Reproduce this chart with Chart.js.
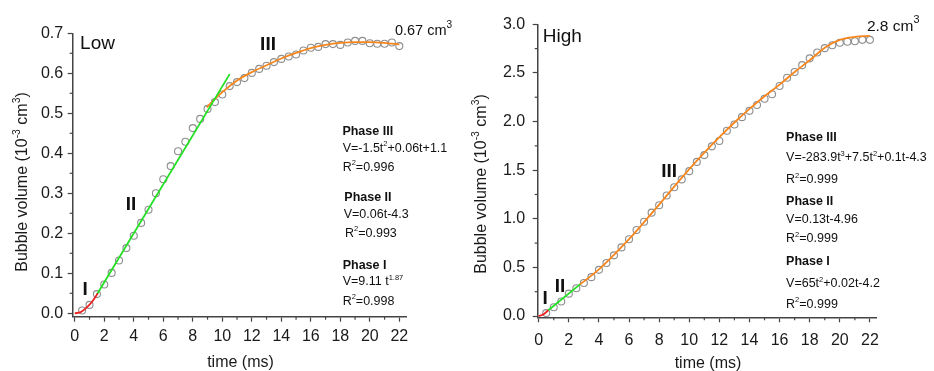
<!DOCTYPE html>
<html><head><meta charset="utf-8">
<script src="https://cdn.jsdelivr.net/npm/chart.js@4/dist/chart.umd.min.js"></script>
<style>
html,body{margin:0;padding:0;background:#fff;overflow:hidden}
#wrap{position:relative;width:934px;height:371px}
.box{position:absolute;top:0;width:467px;height:371px}
</style></head><body>
<div id="wrap">
<div class="box" style="left:0"><canvas id="c1"></canvas></div>
<div class="box" style="left:467px"><canvas id="c2"></canvas></div>
</div>
<script>
// ---------- tick values / labels ----------
const xTickValues = [0,2,4,6,8,10,12,14,16,18,20,22];
const xTickLabels = ['0','2','4','6','8','10','12','14','16','18','20','22'];
const xMinorValues = [1,3,5,7,9,11,13,15,17,19,21];
const lowYTickValues = [0,0.1,0.2,0.3,0.4,0.5,0.6,0.7];
const lowYTickLabels = ['0.0','0.1','0.2','0.3','0.4','0.5','0.6','0.7'];
const lowYMinorValues = [0.05,0.15,0.25,0.35,0.45,0.55,0.65];
const highYTickValues = [0,0.5,1,1.5,2,2.5,3];
const highYTickLabels = ['0.0','0.5','1.0','1.5','2.0','2.5','3.0'];
const highYMinorValues = [0.25,0.75,1.25,1.75,2.25,2.75];

// ---------- measured bubble volumes ----------
const timeMs = [0.5,1,1.5,2,2.5,3,3.5,4,4.5,5,5.5,6,6.5,7,7.5,8,8.5,9,9.5,10,10.5,11,11.5,12,12.5,13,13.5,14,14.5,15,15.5,16,16.5,17,17.5,18,18.5,19,19.5,20,20.5,21,21.5,22];
const lowVolume = [0.007,0.021,0.048,0.072,0.101,0.132,0.163,0.194,0.226,0.259,0.300,0.335,0.368,0.405,0.429,0.463,0.486,0.511,0.528,0.547,0.568,0.578,0.588,0.601,0.611,0.619,0.628,0.636,0.642,0.647,0.657,0.664,0.666,0.673,0.673,0.671,0.677,0.681,0.681,0.675,0.674,0.674,0.677,0.668];
const highVolume = [0.03,0.09,0.15,0.23,0.285,0.34,0.40,0.475,0.545,0.624,0.706,0.79,0.885,0.97,1.063,1.14,1.24,1.325,1.405,1.49,1.585,1.655,1.745,1.80,1.905,1.97,2.045,2.11,2.17,2.235,2.28,2.365,2.45,2.51,2.58,2.65,2.71,2.755,2.785,2.81,2.82,2.825,2.84,2.84];

// ---------- fitted curves ----------
const lowFitI_t = [0,0.4,0.8,1.2,1.56];
const lowFitI_v = [0,0.003,0.014,0.03,0.05];
const lowFitII_t = [1.5,10.5];
const lowFitII_v = [0.047,0.598];
const lowFitIII_t = [8.94,10,11,12,13,14,15,16,17,18,19,20,21,22];
const lowFitIII_v = [0.515,0.553,0.582,0.603,0.62,0.637,0.651,0.663,0.671,0.676,0.678,0.678,0.676,0.672];

const highFitI_t = [0,0.3,0.64];
const highFitI_v = [0,0.015,0.06];
const highFitII_t = [0.64,2.74];
const highFitII_v = [0.06,0.326];
const highFitIII_t = [2.7,4,5,6,7,8,9,10,11,12,13,14,15,16,17,18,19,20,21,22];
const highFitIII_v = [0.32,0.48,0.63,0.79,0.965,1.145,1.33,1.51,1.68,1.84,1.99,2.13,2.26,2.38,2.51,2.63,2.76,2.84,2.87,2.88];

// ---------- helpers ----------
const FAM = "'Liberation Sans', Arial, Helvetica, sans-serif";
const AXIS = '#444';
const pts = (xs, ys) => xs.map((x, i) => ({x, y: ys[i]}));

function parseRich(s){
  const segs=[]; const re=/\^\{([^}]*)\}/g; let last=0,m;
  while((m=re.exec(s))){ if(m.index>last) segs.push({t:s.slice(last,m.index),sup:false}); segs.push({t:m[1],sup:true}); last=re.lastIndex; }
  if(last<s.length) segs.push({t:s.slice(last),sup:false});
  return segs;
}
function drawRich(ctx, s, x, yCenter, o){
  const segs=parseRich(s);
  const w=o.bold?'bold ':'';
  const fMain=w+o.size+'px '+FAM;
  const fSup=w+(o.size*(o.supScale||0.62)).toFixed(1)+'px '+FAM;
  let total=0;
  for(const g of segs){ ctx.font=g.sup?fSup:fMain; g.w=ctx.measureText(g.t).width; total+=g.w; }
  let cx = o.align==='center' ? x-total/2 : x;
  const base = yCenter + 0.36*o.size;
  ctx.textBaseline='alphabetic'; ctx.textAlign='left'; ctx.fillStyle=o.color||'#111';
  for(const g of segs){ ctx.font=g.sup?fSup:fMain; ctx.fillText(g.t,cx,g.sup? base-o.size*(o.supRise||0.42) : base); cx+=g.w; }
}

const drawPlugin = {
  id:'extras',
  afterDraw(chart, args, opts){
    const ctx=chart.ctx, xs=chart.scales.x, ys=chart.scales.y, ca=chart.chartArea;
    ctx.save();
    // minor ticks
    ctx.strokeStyle=AXIS; ctx.lineWidth=1.2;
    for(const v of opts.xMinor){ const p=xs.getPixelForValue(v); ctx.beginPath(); ctx.moveTo(p,ca.bottom); ctx.lineTo(p,ca.bottom+3); ctx.stroke(); }
    for(const v of opts.yMinor){ const p=ys.getPixelForValue(v); ctx.beginPath(); ctx.moveTo(ca.left,p); ctx.lineTo(ca.left-3,p); ctx.stroke(); }
    // axis titles
    ctx.save(); ctx.translate(opts.yTitle.x, opts.yTitle.y); ctx.rotate(-Math.PI/2);
    drawRich(ctx, opts.yTitle.text, 0, 0, {size:16, align:'center', color:'#1a1a1a', supScale:0.65, supRise:0.4});
    ctx.restore();
    drawRich(ctx, opts.xTitle.text, opts.xTitle.x, opts.xTitle.y, {size:16, align:'center', color:'#1a1a1a'});
    // notes in data coordinates
    for(const n of opts.notes){
      drawRich(ctx, n.text, xs.getPixelForValue(n.t), ys.getPixelForValue(n.v), n);
    }
    ctx.restore();
  }
};

function makeChart(id, c){
  return new Chart(document.getElementById(id), {
    type:'scatter',
    data:{datasets:[
      {data:pts(c.fI[0],c.fI[1]), showLine:true, borderColor:'#ee2020', borderWidth:1.8, pointRadius:0, cubicInterpolationMode:'monotone'},
      {data:pts(c.fII[0],c.fII[1]), showLine:true, borderColor:'#22e022', borderWidth:1.8, pointRadius:0},
      {data:pts(c.fIII[0],c.fIII[1]), showLine:true, borderColor:'#f7861c', borderWidth:1.8, pointRadius:0, cubicInterpolationMode:'monotone'},
      {data:pts(timeMs,c.vol), showLine:false, pointStyle:'circle', pointRadius:3.5, pointBorderWidth:1.1, pointBorderColor:'#8e8e8e', pointBackgroundColor:'rgba(255,255,255,0)'}
    ]},
    options:{
      responsive:true, maintainAspectRatio:false, animation:false,
      layout:{padding:{top:c.padTop,right:c.padRight,left:0,bottom:0}},
      plugins:{legend:{display:false}, tooltip:{enabled:false},
        extras:{xMinor:xMinorValues, yMinor:c.yMinor, notes:c.notes, yTitle:c.yTitle, xTitle:c.xTitle}},
      scales:{
        x:{type:'linear', min:c.xMin, max:c.xMax,
          afterBuildTicks:s=>{s.ticks=xTickValues.map(v=>({value:v}));},
          afterFit:s=>{s.height=c.xHeight;},
          ticks:{autoSkip:false, maxRotation:0, padding:c.xPad, color:'#1a1a1a', font:{family:FAM,size:16}, callback:(v,i)=>xTickLabels[i]},
          grid:{drawOnChartArea:false, drawTicks:true, tickLength:5, tickColor:AXIS, tickWidth:1.2},
          border:{display:true, color:AXIS, width:1.5}},
        y:{type:'linear', min:c.yMin, max:c.yMax,
          afterBuildTicks:s=>{s.ticks=c.yTicks.map(v=>({value:v}));},
          afterFit:s=>{s.width=c.yWidth;},
          ticks:{autoSkip:false, padding:c.yPad, color:'#1a1a1a', font:{family:FAM,size:16}, callback:(v,i)=>c.yLabels[i]},
          grid:{drawOnChartArea:false, drawTicks:true, tickLength:5, tickColor:AXIS, tickWidth:1.2},
          border:{display:true, color:AXIS, width:1.5}}
      }
    },
    plugins:[drawPlugin]
  });
}

const YTITLE = 'Bubble volume (10^{-3} cm^{3})';
const small = {size:12.5, color:'#111', supScale:0.6, supRise:0.45};
const smallB = {size:12.5, bold:true, color:'#111'};
const big = {size:19, color:'#111'};
const bigB = {size:19, bold:true, color:'#111'};

makeChart('c1', {
  vol:lowVolume, fI:[lowFitI_t,lowFitI_v], fII:[lowFitII_t,lowFitII_v], fIII:[lowFitIII_t,lowFitIII_v],
  xMin:-0.14, xMax:22.5, yMin:-0.0085, yMax:0.7, yWidth:72.7, xHeight:54.3, padTop:33.3, padRight:60.3,
  xPad:5, yPad:4.5, yTicks:lowYTickValues, yLabels:lowYTickLabels, yMinor:lowYMinorValues,
  yTitle:{text:YTITLE, x:21, y:182}, xTitle:{text:'time (ms)', x:240.5, y:361.5},
  notes:[
    Object.assign({text:'Low', t:0.36, v:0.677}, big),
    Object.assign({text:'III', t:13.1, v:0.675, align:'center'}, bigB),
    Object.assign({text:'II', t:3.82, v:0.2765, align:'center'}, bigB),
    Object.assign({text:'I', t:0.70, v:0.0625, align:'center'}, bigB),
    Object.assign({text:'0.67 cm^{3}', t:21.7, v:0.708, supScale:0.7, supRise:0.5}, {size:14.5,color:'#111'}),
    Object.assign({text:'Phase III', t:18.14, v:0.458}, smallB),
    Object.assign({text:'V=-1.5t^{2}+0.06t+1.1', t:18.16, v:0.415}, small),
    Object.assign({text:'R^{2}=0.996', t:18.16, v:0.367}, small),
    Object.assign({text:'Phase II', t:18.27, v:0.291}, smallB),
    Object.assign({text:'V=0.06t-4.3', t:18.23, v:0.25}, small),
    Object.assign({text:'R^{2}=0.993', t:18.32, v:0.2025}, small),
    Object.assign({text:'Phase I', t:18.16, v:0.1225}, smallB),
    Object.assign({text:'V=9.11 t^{1.87}', t:18.16, v:0.0808}, small),
    Object.assign({text:'R^{2}=0.998', t:18.16, v:0.033}, small)
  ]
});

makeChart('c2', {
  vol:highVolume, fI:[highFitI_t,highFitI_v], fII:[highFitII_t,highFitII_v], fIII:[highFitIII_t,highFitIII_v],
  xMin:-0.066, xMax:22.45, yMin:-0.013, yMax:3.0, yWidth:70.7, xHeight:53.7, padTop:24.3, padRight:57.3,
  xPad:8.5, yPad:7.5, yTicks:highYTickValues, yLabels:highYTickLabels, yMinor:highYMinorValues,
  yTitle:{text:YTITLE, x:13, y:184}, xTitle:{text:'time (ms)', x:241, y:362.5},
  notes:[
    Object.assign({text:'High', t:0.27, v:2.89}, big),
    Object.assign({text:'III', t:8.67, v:1.50, align:'center'}, bigB),
    Object.assign({text:'II', t:1.41, v:0.319, align:'center'}, bigB),
    Object.assign({text:'I', t:0.42, v:0.199, align:'center'}, bigB),
    Object.assign({text:'2.8 cm^{3}', t:21.8, v:2.99, supScale:0.7, supRise:0.5}, {size:15.5,color:'#111'}),
    Object.assign({text:'Phase III', t:16.43, v:1.851}, smallB),
    Object.assign({text:'V=-283.9t^{3}+7.5t^{2}+0.1t-4.3', t:16.43, v:1.636}, small),
    Object.assign({text:'R^{2}=0.999', t:16.43, v:1.41}, small),
    Object.assign({text:'Phase II', t:16.43, v:1.186}, smallB),
    Object.assign({text:'V=0.13t-4.96', t:16.43, v:1.008}, small),
    Object.assign({text:'R^{2}=0.999', t:16.43, v:0.805}, small),
    Object.assign({text:'Phase I', t:16.43, v:0.569}, smallB),
    Object.assign({text:'V=65t^{2}+0.02t-4.2', t:16.43, v:0.34}, small),
    Object.assign({text:'R^{2}=0.999', t:16.43, v:0.134}, small)
  ]
});
</script>
</body></html>
